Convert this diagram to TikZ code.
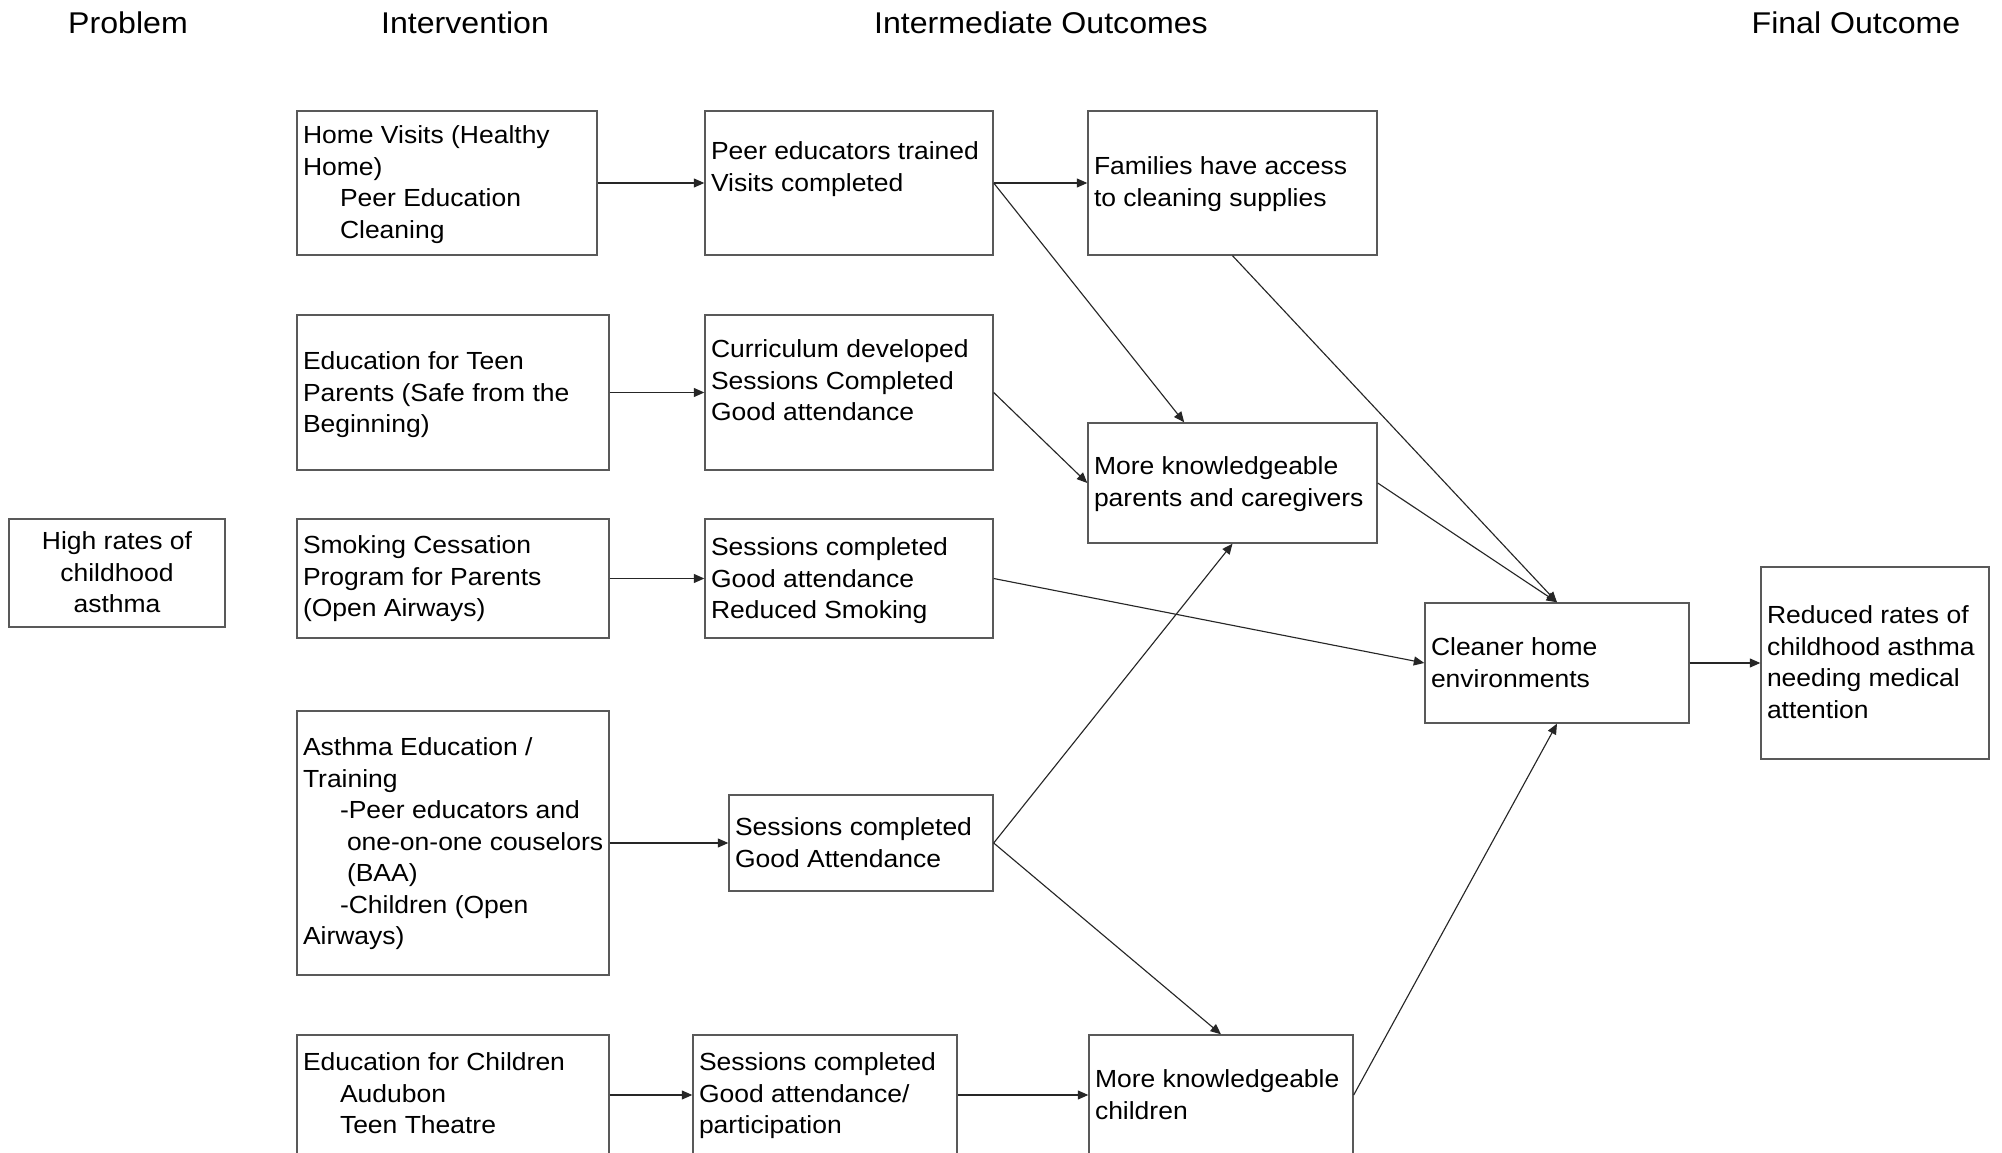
\documentclass[tikz,border=0pt]{standalone}
\usepackage{fontspec}
\setmainfont{Liberation Sans}[FakeStretch=1.07]
\usetikzlibrary{arrows.meta}

\newcommand\bodyfont{\fontsize{9.9pt}{12.6pt}\selectfont}
\newcommand\headfont{\fontsize{12pt}{14pt}\selectfont}
% fixed height of the first text line, so a node's top sits 8pt above its first baseline
\newcommand\fl{\rule{0pt}{8pt}}
\newcommand\ind{\hspace*{14.8pt}}
\newcommand\indd{\hspace*{17.6pt}}
% \mkbox{name}{left}{top}{right}{bottom}
\newcommand\mkbox[5]{\node[box, minimum width={(#4-#2)*0.4pt}, minimum height={(#5-#3)*0.4pt}] (#1) at ({(#2+#4)/2},{(#3+#5)/2}) {};}

\begin{document}
\begin{tikzpicture}[x=0.4pt, y=-0.4pt,
  box/.style={draw=black!65, line width=0.55pt, inner sep=0pt},
  txt/.style={anchor=north west, inner sep=0pt, align=left, font=\bodyfont},
  ctxt/.style={anchor=north, inner sep=0pt, align=center, font=\bodyfont},
  head/.style={anchor=base, inner sep=0pt, font=\headfont},
  arr/.style={draw=black!85, line width=0.45pt, -{Triangle[length=4.2pt,width=3.6pt]}}]

\fill[white] (0,0) rectangle (2002,1153);
\useasboundingbox (0,0) rectangle (2002,1153);

% column headings
\node[head] (hProblem) at (128,33) {Problem};
\node[head] (hIntervention) at (465,33) {Intervention};
\node[head] (hIntermediate) at (1041,33) {Intermediate Outcomes};
\node[head] (hFinal) at (1856,33) {Final Outcome};

% boxes
\mkbox{hv}{297}{111}{597}{255}
\mkbox{pe1}{705}{111}{993}{255}
\mkbox{fam}{1088}{111}{1377}{255}
\mkbox{teen}{297}{315}{609}{470}
\mkbox{cur}{705}{315}{993}{470}
\mkbox{mkp}{1088}{423}{1377}{543}
\mkbox{high}{9}{519}{225}{627}
\mkbox{smk}{297}{519}{609}{638}
\mkbox{ses1}{705}{519}{993}{638}
\mkbox{clean}{1425}{603}{1689}{723}
\mkbox{red}{1761}{567}{1989}{759}
\mkbox{ast}{297}{711}{609}{975}
\mkbox{ses2}{729}{795}{993}{891}
\mkbox{edc}{297}{1035}{609}{1155}
\mkbox{ses3}{693}{1035}{957}{1155}
\mkbox{mkc}{1089}{1035}{1353}{1155}

% box texts
\node[txt] (thv) at (302.5,123) {\fl Home Visits (Healthy\\Home)\\\ind Peer Education\\\ind Cleaning};
\node[txt] (tpe1) at (710.5,139) {\fl Peer educators trained\\Visits completed};
\node[txt] (tfam) at (1093.5,154) {\fl Families have access\\to cleaning supplies};
\node[txt] (tteen) at (302.5,349) {\fl Education for Teen\\Parents (Safe from the\\Beginning)};
\node[txt] (tcur) at (710.5,337) {\fl Curriculum developed\\Sessions Completed\\Good attendance};
\node[txt] (tmkp) at (1093.5,454) {\fl More knowledgeable\\parents and caregivers};
\node[ctxt] (thigh) at (117,529) {\fl High rates of\\childhood\\asthma};
\node[txt] (tsmk) at (302.5,533) {\fl Smoking Cessation\\Program for Parents\\(Open Airways)};
\node[txt] (tses1) at (710.5,535) {\fl Sessions completed\\Good attendance\\Reduced Smoking};
\node[txt] (tclean) at (1430.5,635) {\fl Cleaner home\\environments};
\node[txt] (tred) at (1766.5,603) {\fl Reduced rates of\\childhood asthma\\needing medical\\attention};
\node[txt] (tast) at (302.5,735) {\fl Asthma Education /\\Training\\\ind -Peer educators and\\\indd one-on-one couselors\\\indd (BAA)\\\ind -Children (Open\\Airways)};
\node[txt] (tses2) at (734.5,815) {\fl Sessions completed\\Good Attendance};
\node[txt] (tedc) at (302.5,1050) {\fl Education for Children\\\ind Audubon\\\ind Teen Theatre};
\node[txt] (tses3) at (698.5,1050) {\fl Sessions completed\\Good attendance/\\participation};
\node[txt] (tmkc) at (1094.5,1067) {\fl More knowledgeable\\children};

% connectors
\draw[arr] (hv.east) -- (pe1.west);
\draw[arr] (pe1.east) -- (fam.west);
\draw[arr] (pe1.east) -- (mkp);
\draw[arr] (fam.south) -- (clean.north);
\draw[arr] (teen.east) -- (cur.west);
\draw[arr] (cur.east) -- (mkp.west);
\draw[arr] (mkp.east) -- (clean.north);
\draw[arr] (smk.east) -- (ses1.west);
\draw[arr] (ses1.east) -- (clean.west);
\draw[arr] (ast.east) -- (ses2.west);
\draw[arr] (ses2.east) -- (mkp.south);
\draw[arr] (ses2.east) -- (mkc.north);
\draw[arr] (edc.east) -- (ses3.west);
\draw[arr] (ses3.east) -- (mkc.west);
\draw[arr] (mkc.east) -- (clean.south);
\draw[arr] (clean.east) -- (red.west);
\end{tikzpicture}
\end{document}
